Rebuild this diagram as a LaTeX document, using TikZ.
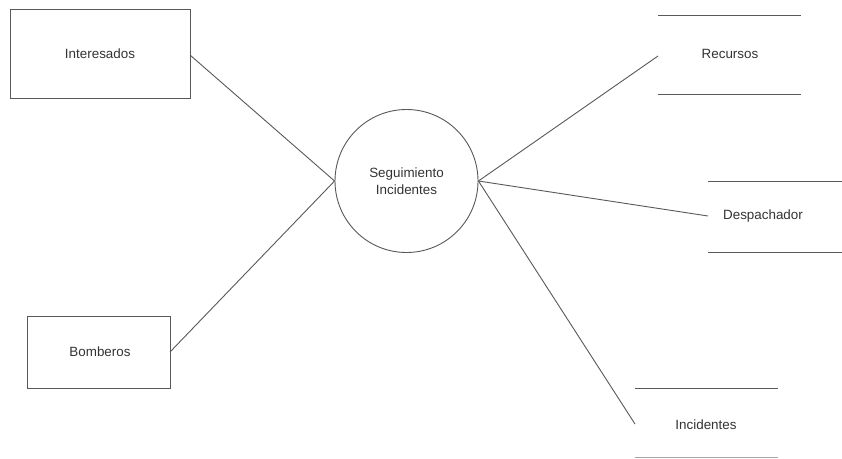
\documentclass[tikz,border=0pt]{standalone}
\usepackage{fontspec}
\setmainfont{Liberation Sans}
\begin{document}
\begin{tikzpicture}[x=1pt,y=-1pt,
  ink/.style={draw=black!65,line width=0.9pt},
  lbl/.style={font=\fontsize{13.4}{16}\selectfont,text=black!80,inner sep=0pt},
  process/.style={ink,circle,minimum size=143pt,inner sep=0pt,align=center,
                  font=\fontsize{13.4}{16.5}\selectfont,text=black!80},
  flow/.style={ink}]
\useasboundingbox (0,0) rectangle (842,458);
\fill[white] (0,0) rectangle (842,458);

% external entities
\draw[ink] (10,9) rectangle (190,98);
\node[lbl] (interesados) at (100,54) {Interesados};
\coordinate (intE) at (190,55);
\draw[ink] (27,316) rectangle (170,388);
\node[lbl] (bomberos) at (100,352) {Bomberos};
\coordinate (bomE) at (170,352);

% central process
\node[process] (proc) at (406.5,181) {Seguimiento\\Incidentes};

% data stores
\draw[ink] (658,15) -- (801,15);
\draw[ink] (658,94) -- (801,94);
\node[lbl] (recursos) at (730,54) {Recursos};
\coordinate (recW) at (658,56);

\draw[ink] (708,181) -- (842,181);
\draw[ink] (708,252) -- (842,252);
\node[lbl] (despachador) at (763,216) {Despachador};
\coordinate (desW) at (708,216);

\draw[ink] (635,388) -- (778,388);
\draw[draw=black!35,line width=0.9pt] (635,457) -- (778,457);
\node[lbl] (incidentes) at (706,425) {Incidentes};
\coordinate (incW) at (635,424);

% data flows
\draw[flow] (intE) -- (proc.west);
\draw[flow] (bomE) -- (proc.west);
\draw[flow] (proc.east) -- (recW);
\draw[flow] (proc.east) -- (desW);
\draw[flow] (proc.east) -- (incW);
\end{tikzpicture}
\end{document}
